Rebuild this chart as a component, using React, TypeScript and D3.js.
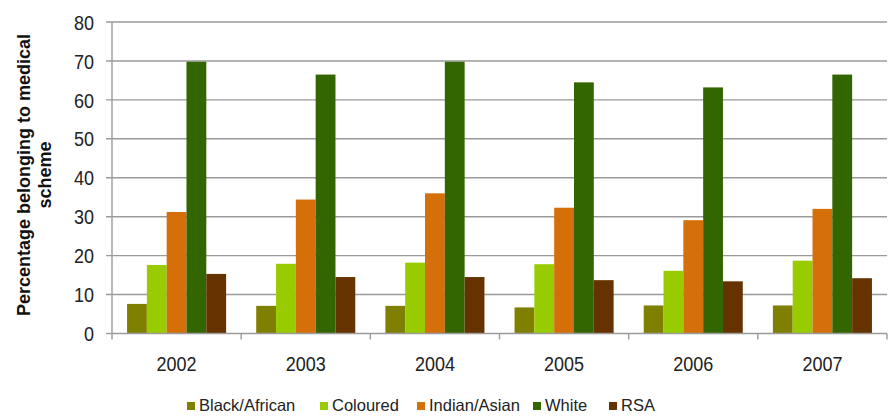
import React from "react";
import * as d3 from "d3";

const years = ["2002", "2003", "2004", "2005", "2006", "2007"];
const seriesNames = ["Black/African", "Coloured", "Indian/Asian", "White", "RSA"];
const blackAfrican = [7.6, 7.1, 7.1, 6.7, 7.2, 7.2];
const coloured = [17.6, 17.9, 18.2, 17.8, 16.1, 18.7];
const indianAsian = [31.2, 34.4, 36.0, 32.3, 29.1, 32.0];
const white = [69.8, 66.5, 69.8, 64.5, 63.2, 66.5];
const rsa = [15.3, 14.5, 14.5, 13.7, 13.4, 14.2];
const colors = ["#808000", "#99CC00", "#D46F0A", "#336600", "#663300"];
const yTicks = [0, 10, 20, 30, 40, 50, 60, 70, 80];

const allSeries = [blackAfrican, coloured, indianAsian, white, rsa];

function SText({ x, y, anchor, size, children }: any) {
  return (
    <g transform={`translate(${x},${y}) scale(1,1.1)`}>
      <text x={0} y={0} dy="0.36em" textAnchor={anchor} fontSize={size} fill="#222">{children}</text>
    </g>
  );
}

export default function App() {
  const W = 890, H = 416;
  const left = 112, right = 887, top = 22, bottom = 333.5;
  const x = d3.scaleBand<string>().domain(years).range([left, right]).paddingInner(0).paddingOuter(0);
  const y = d3.scaleLinear().domain([0, 80]).range([bottom, top]);
  const inner = d3.scaleBand<string>().domain(seriesNames).range([0, x.bandwidth()]).paddingInner(0).paddingOuter(0.76);
  const font = "'Liberation Sans', Arial, sans-serif";
  const legendX = [187, 320, 417, 533, 609];
  return (
    <svg width={W} height={H} style={{ position: "absolute", left: 0, top: 0, background: "#fff" }} fontFamily={font}>
      {yTicks.map((t) => (
        <g key={t}>
          <line x1={left - 6} x2={t === 0 ? left : right} y1={y(t)} y2={y(t)} stroke="#9a9a9a" strokeWidth={1.4} />
          <SText x={94} y={y(t) + 0.5} anchor="end" size={18}>{t}</SText>
        </g>
      ))}
      {years.map((yr, i) =>
        allSeries.map((s, j) => (
          <rect key={yr + j} x={(x(yr) as number) + (inner(seriesNames[j]) as number)} width={inner.bandwidth()} y={y(s[i])} height={y(0) - y(s[i])} fill={colors[j]} />
        ))
      )}
      <line x1={left} x2={left} y1={top} y2={bottom} stroke="#9a9a9a" strokeWidth={1.4} />
      <line x1={left} x2={right} y1={bottom} y2={bottom} stroke="#9a9a9a" strokeWidth={1.4} />
      {years.concat(["end"]).map((yr, i) => {
        const xx = left + i * x.bandwidth();
        return <line key={"t" + i} x1={xx} x2={xx} y1={bottom} y2={bottom + 6} stroke="#9a9a9a" strokeWidth={1.4} />;
      })}
      {years.map((yr) => (
        <SText key={"l" + yr} x={(x(yr) as number) + x.bandwidth() / 2} y={364} anchor="middle" size={18}>{yr}</SText>
      ))}
      <g transform={`translate(24,175) rotate(-90)`}>
        <text x={0} y={0} dy="0.35em" textAnchor="middle" fontSize={18} fontWeight="bold" fill="#111">Percentage belonging to medical</text>
        <text x={0} y={21} dy="0.35em" textAnchor="middle" fontSize={18} fontWeight="bold" fill="#111">scheme</text>
      </g>
      {seriesNames.map((n, j) => (
        <g key={"lg" + n}>
          <rect x={legendX[j]} y={402} width={8} height={8} fill={colors[j]} />
          <text x={legendX[j] + 12} y={405} dy="0.36em" fontSize={16.5} fill="#222">{n}</text>
        </g>
      ))}
    </svg>
  );
}
